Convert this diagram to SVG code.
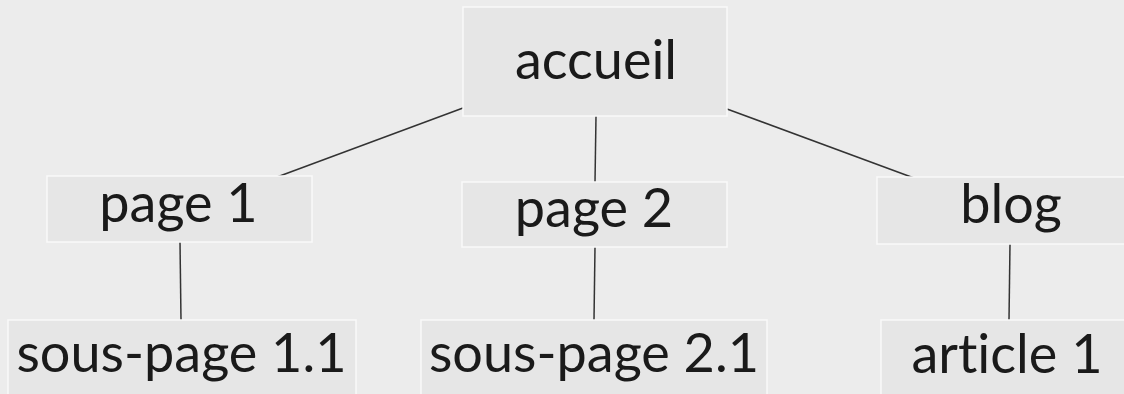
<svg xmlns="http://www.w3.org/2000/svg" width="1124" height="394" viewBox="0 0 1124 394">
<style>
.box{fill:#e6e6e6;stroke:#f9f9f9;stroke-width:1.5}
.lbl{font-family:Lato,"Noto Sans",sans-serif;font-size:54px;fill:#1a1a1a;text-anchor:middle;font-variant-ligatures:none;font-feature-settings:"liga" 0}
.edge{stroke:#333;stroke-width:1.5;fill:none}
</style>
<rect width="1124" height="394" fill="#ececec"/>
<g id="connectors">
<line class="edge" x1="463" y1="108" x2="277" y2="177"/>
<line class="edge" x1="596" y1="116" x2="595" y2="182"/>
<line class="edge" x1="727" y1="109" x2="914" y2="178"/>
<line class="edge" x1="180" y1="242" x2="181" y2="320"/>
<line class="edge" x1="595" y1="247" x2="594" y2="320"/>
<line class="edge" x1="1010" y1="244" x2="1009" y2="320"/>
</g>
<g id="accueil"><rect class="box" x="463" y="7" width="264" height="109"/><text class="lbl" x="596" y="79">accueil</text></g>
<g id="page1"><rect class="box" x="47" y="176" width="265" height="66"/><text class="lbl" x="178.5" y="222">page 1</text></g>
<g id="page2"><rect class="box" x="462" y="182" width="265" height="65"/><text class="lbl" x="594" y="227">page 2</text></g>
<g id="blog"><rect class="box" x="877" y="177" width="260" height="67"/><text class="lbl" x="1011" y="223">blog</text></g>
<g id="souspage11"><rect class="box" x="8" y="320" width="348" height="90"/><text class="lbl" x="181.5" y="372">sous-page 1.1</text></g>
<g id="souspage21"><rect class="box" x="421" y="320" width="346" height="90"/><text class="lbl" x="594" y="372">sous-page 2.1</text></g>
<g id="article1"><rect class="box" x="881" y="320" width="260" height="90"/><text class="lbl" x="1007" y="373">article 1</text></g>
</svg>
